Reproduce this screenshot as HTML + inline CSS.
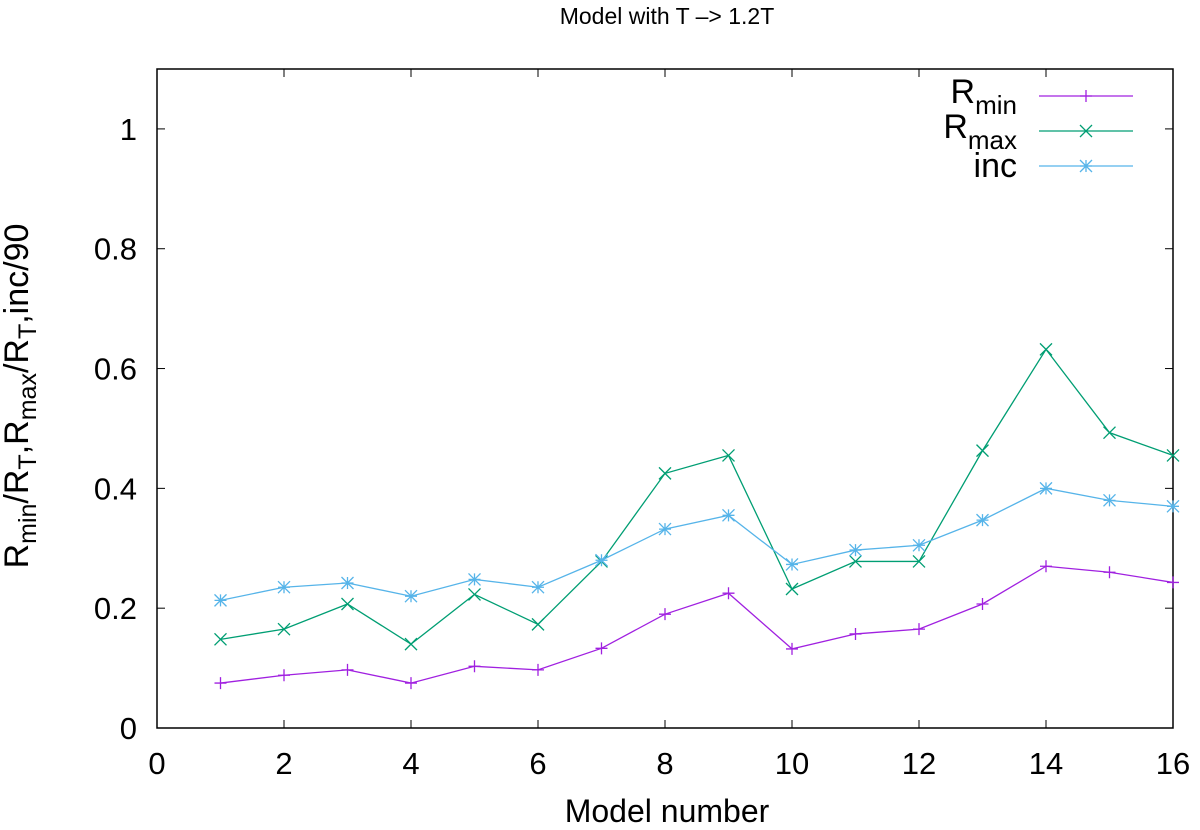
<!DOCTYPE html>
<html><head><meta charset="utf-8"><style>
body{margin:0;background:#fff}
svg{display:block;font-family:"Liberation Sans",sans-serif}
</style></head><body>
<svg id="chart" width="1200" height="830">
<text x="667" y="24" font-size="23" text-anchor="middle">Model with T –&gt; 1.2T</text>
<text x="667" y="822" font-size="32" text-anchor="middle">Model number</text>
<text transform="translate(28,396) rotate(-90)" font-size="34" text-anchor="middle">R<tspan font-size="25" dy="8">min</tspan><tspan dy="-8">/R</tspan><tspan font-size="25" dy="8">T</tspan><tspan dy="-8">,R</tspan><tspan font-size="25" dy="8">max</tspan><tspan dy="-8">/R</tspan><tspan font-size="25" dy="8">T</tspan><tspan dy="-8">,inc/90</tspan></text>
<g id="axes"></g>
<g id="series"></g>
<g id="legend"></g>
</svg>
<script>
const xTicks=[0,2,4,6,8,10,12,14,16];
const yTicks=[0,0.2,0.4,0.6,0.8,1];
const models=[1,2,3,4,5,6,7,8,9,10,11,12,13,14,15,16];
const rmin=[0.075,0.088,0.097,0.075,0.103,0.097,0.133,0.19,0.225,0.132,0.157,0.165,0.207,0.27,0.26,0.243];
const rmax=[0.148,0.165,0.207,0.14,0.223,0.173,0.278,0.425,0.455,0.232,0.278,0.278,0.463,0.632,0.493,0.455];
const inc=[0.213,0.235,0.242,0.22,0.248,0.235,0.28,0.332,0.355,0.273,0.297,0.305,0.347,0.4,0.38,0.37];
const L=157,R=1173,T=69,B=728;
const sx=v=>L+v*(R-L)/16, sy=v=>B-v*(B-T)/1.1;
const NS="http://www.w3.org/2000/svg";
function mk(tag,attrs,parent){const e=document.createElementNS(NS,tag);for(const k in attrs)e.setAttribute(k,attrs[k]);parent.appendChild(e);return e;}
const ax=document.getElementById('axes');
const frame=mk('rect',{x:L,y:T,width:R-L,height:B-T,fill:'none',stroke:'#000','stroke-width':1.5},ax);


xTicks.forEach(t=>{const x=sx(t);
 mk('line',{x1:x,x2:x,y1:B,y2:B-8,stroke:'#000'},ax);mk('line',{x1:x,x2:x,y1:T,y2:T+8,stroke:'#000'},ax);
 const tx=mk('text',{x:x,y:774,'font-size':31,'text-anchor':'middle'},ax);tx.textContent=t;
 
 });
yTicks.forEach(t=>{const y=sy(t);
 mk('line',{x1:L,x2:L+8,y1:y,y2:y,stroke:'#000'},ax);mk('line',{x1:R,x2:R-8,y1:y,y2:y,stroke:'#000'},ax);
 const tx=mk('text',{x:137,y:y+11,'font-size':31,'text-anchor':'end'},ax);tx.textContent=t;
 
 });
function marker(type,x,y,c,g){const s=6;
 if(type==='plus'){mk('path',{d:`M${x-s} ${y}H${x+s}M${x} ${y-s}V${y+s}`,stroke:c,'stroke-width':1.3,fill:'none'},g);}
 else if(type==='x'){mk('path',{d:`M${x-s} ${y-s}L${x+s} ${y+s}M${x-s} ${y+s}L${x+s} ${y-s}`,stroke:c,'stroke-width':1.3,fill:'none'},g);}
 else{mk('path',{d:`M${x-s} ${y}H${x+s}M${x} ${y-s}V${y+s}M${x-s} ${y-s}L${x+s} ${y+s}M${x-s} ${y+s}L${x+s} ${y-s}`,stroke:c,'stroke-width':1.3,fill:'none'},g);}}
const sg=document.getElementById('series');
const defs=[[rmin,'#a020e0','plus','series-rmin'],[rmax,'#009e73','x','series-rmax'],[inc,'#56b4e9','star','series-inc']];
defs.forEach(([d,c,m,n])=>{const g=mk('g',{},sg);
 
 
 mk('polyline',{points:d.map((v,i)=>sx(models[i])+','+sy(v)).join(' '),fill:'none',stroke:c,'stroke-width':1.3},g);
 d.forEach((v,i)=>marker(m,sx(models[i]),sy(v),c,g));});
const lg=document.getElementById('legend');
const labels=[['R','min'],['R','max'],['inc','']];
const ly=[96,131,166];
const lb=[103,138,177];
defs.forEach(([d,c,m,n],i)=>{const g=mk('g',{},lg);
 
 
 const t=mk('text',{x:1017,y:lb[i],'font-size':34,'text-anchor':'end'},g);
 if(labels[i][1]){t.innerHTML=`R<tspan font-size="26" dy="11">${labels[i][1]}</tspan>`;}
 else t.textContent=labels[i][0];
 mk('line',{x1:1039,x2:1133,y1:ly[i],y2:ly[i],stroke:c,'stroke-width':1.3},g);
 marker(m,1086,ly[i],c,g);});
</script>
</body></html>
